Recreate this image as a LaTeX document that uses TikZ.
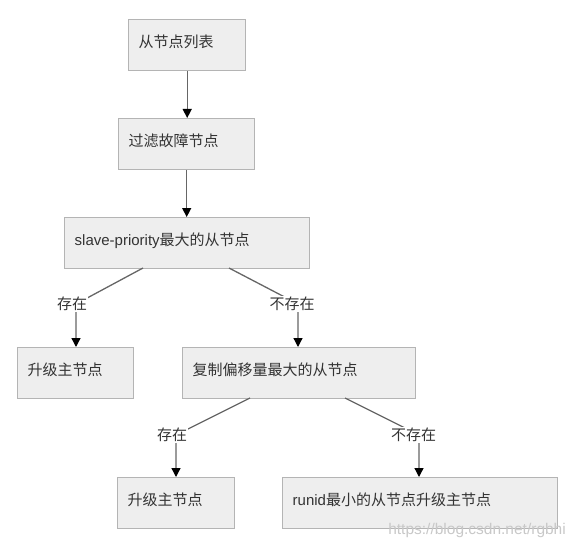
\documentclass[tikz,border=0pt]{standalone}
\usepackage{fontspec}
\setmainfont{Noto Sans CJK SC}
\newfontfamily\lat{Liberation Sans}
\usetikzlibrary{arrows.meta}
\definecolor{boxfill}{HTML}{EEEEEE}
\definecolor{boxdraw}{HTML}{B4B4B4}
\definecolor{linec}{HTML}{666666}
\definecolor{txt}{HTML}{333333}
\definecolor{wm}{HTML}{C8C8C8}
\begin{document}
\begin{tikzpicture}[x=1pt,y=-1pt,
  font=\fontsize{15pt}{18pt}\selectfont,
  box/.style={draw=boxdraw,fill=boxfill,line width=1.4pt,anchor=north west,
    inner xsep=10pt,inner ysep=0pt,minimum height=51pt,align=left,text=txt,
    text height=10pt,text depth=5.6pt},
  conn/.style={draw=linec,line width=1.3pt,-{Triangle[width=9pt,length=9pt,color=black]}},
  lbl/.style={fill=white,inner sep=1pt,text=txt}]
\useasboundingbox (0,0) rectangle (575,548);
\node[box,text width=97pt]  (b1) at (128,19)  {从节点列表};
\node[box,text width=116pt] (b2) at (118,118) {过滤故障节点};
\node[box,text width=225pt] (b3) at (64,217)  {{\lat slave-priority}最大的从节点};
\node[box,text width=96pt]  (b4) at (17,347)  {升级主节点};
\node[box,text width=213pt] (b5) at (182,347) {复制偏移量最大的从节点};
\node[box,text width=97pt]  (b6) at (117,477) {升级主节点};
\node[box,text width=255pt] (b7) at (282,477) {{\lat runid}最小的从节点升级主节点};
% connectors
\draw[conn] (b1.south) -- (b1.south |- b2.north);
\draw[conn] (b2.south) -- (b2.south |- b3.north);
\coordinate (s1) at (143,268); \coordinate (k1) at (76,304);
\coordinate (s2) at (229,268); \coordinate (k2) at (298,304);
\coordinate (s3) at (250,398); \coordinate (k3) at (176,435);
\coordinate (s4) at (345,398); \coordinate (k4) at (419,435);
\draw[conn] (s1) -- (k1) -- (k1 |- b4.north);
\draw[conn] (s2) -- (k2) -- (k2 |- b5.north);
\draw[conn] (s3) -- (k3) -- (k3 |- b6.north);
\draw[conn] (s4) -- (k4) -- (k4 |- b7.north);
\node[lbl] (l1) at (72,304) {存在};
\node[lbl] (l2) at (292,304) {不存在};
\node[lbl] (l3) at (172,435) {存在};
\node[lbl] (l4) at (413.5,435) {不存在};
\node[anchor=east,text=wm,font=\lat\fontsize{15.5pt}{18pt}\selectfont,inner sep=0pt] (wmk) at (566,530) {https://blog.csdn.net/rgbhi};
\end{tikzpicture}
\end{document}
